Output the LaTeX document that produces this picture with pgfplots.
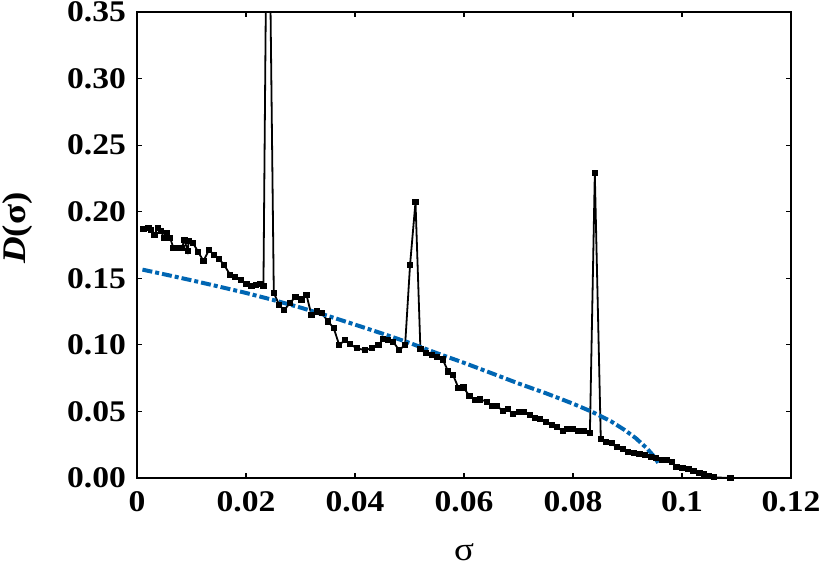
\documentclass[border=0pt]{standalone}
\usepackage{fontspec}
\setmainfont[FakeStretch=1.12]{Liberation Serif}
\usepackage{pgfplots}
\pgfplotsset{compat=1.18}
\definecolor{fitblue}{RGB}{0,102,179}

\begin{document}
\begin{tikzpicture}
\begin{axis}[
    scale only axis,
    width=327pt, height=233pt,
    xmin=0, xmax=0.12,
    ymin=0, ymax=0.35,
    xtick={0,0.02,0.04,0.06,0.08,0.1,0.12},
    ytick={0,0.05,0.1,0.15,0.2,0.25,0.3,0.35},
    tick align=inside,
    major tick length=2.5pt,
    tick style={black, line width=0.6pt},
    axis line style={line width=0.8pt},
    scaled ticks=false,
    xticklabel style={/pgf/number format/.cd, fixed, precision=2, assume math mode=true},
    yticklabel style={/pgf/number format/.cd, fixed, fixed zerofill, precision=2, assume math mode=true},
    ticklabel style={font=\fontsize{15}{17}\selectfont\bfseries},
    xticklabel shift=3pt,
    yticklabel shift=2pt,
    xlabel={σ},
    ylabel={\textbf{\textit{D}(σ)}},
    label style={font=\fontsize{16.5}{18}\selectfont},
    x label style={at={(axis description cs:0.5,-0.16)}, anchor=center},
    y label style={at={(axis description cs:-0.182,0.536)}, anchor=center, rotate=0},
]
\coordinate (ll) at (rel axis cs:0,0);
\coordinate (ur) at (rel axis cs:1,1);

% measured D(sigma)
\addplot[black, line width=0.9pt, mark=square*, mark size=1.1pt] coordinates {
(0.0012,0.187) (0.0021,0.188) (0.0026,0.186) (0.0032,0.1826) (0.0038,0.1876)
(0.0044,0.1856) (0.0050,0.180) (0.0055,0.1838) (0.0061,0.180) (0.0067,0.1726)
(0.0075,0.1726) (0.0082,0.1726) (0.0087,0.1788) (0.0093,0.1706) (0.0095,0.178)
(0.0103,0.1763) (0.0112,0.170) (0.0122,0.163) (0.0132,0.1713) (0.0142,0.1675)
(0.0151,0.1643) (0.0160,0.160) (0.0171,0.1525) (0.0180,0.151) (0.0191,0.1487)
(0.0201,0.146) (0.0210,0.1445) (0.0219,0.145) (0.0226,0.146) (0.0232,0.1442)
(0.0240,0.53) (0.0251,0.139) (0.0261,0.130) (0.0270,0.126) (0.0281,0.1317)
(0.0291,0.136) (0.0302,0.134) (0.0311,0.1375) (0.0320,0.1225) (0.0330,0.125)
(0.0339,0.1237) (0.0351,0.1175) (0.0361,0.1125) (0.0371,0.100) (0.0382,0.1037)
(0.0391,0.1007) (0.0403,0.0974) (0.0418,0.0961) (0.0431,0.0974) (0.0443,0.100)
(0.0452,0.1042) (0.0461,0.1037) (0.0470,0.1024) (0.0481,0.096) (0.0492,0.100)
(0.0501,0.160) (0.0511,0.2074) (0.0520,0.0967) (0.0530,0.0937) (0.0541,0.0924)
(0.0551,0.091) (0.0561,0.089) (0.0571,0.080) (0.0580,0.0774) (0.0590,0.0674)
(0.0599,0.068) (0.0610,0.0616) (0.0620,0.0586) (0.0630,0.059) (0.0642,0.0573)
(0.0651,0.0541) (0.0660,0.0541) (0.0671,0.0506) (0.0681,0.0516) (0.0690,0.0481)
(0.0701,0.0498) (0.0710,0.0498) (0.0721,0.0473) (0.0730,0.0448) (0.0739,0.0441)
(0.0750,0.0423) (0.0761,0.0398) (0.0770,0.0381) (0.0781,0.0355) (0.0789,0.0366)
(0.0799,0.0366) (0.0810,0.0355) (0.0820,0.0355) (0.0831,0.034) (0.0840,0.2288)
(0.0851,0.029) (0.0860,0.0273) (0.0871,0.026) (0.0880,0.023) (0.0891,0.0216)
(0.0901,0.0198) (0.0912,0.019) (0.0922,0.018) (0.0932,0.0173) (0.0943,0.016)
(0.0952,0.0148) (0.0963,0.0135) (0.0972,0.0135) (0.0981,0.0123) (0.0990,0.0085)
(0.1001,0.0073) (0.1012,0.0065) (0.1021,0.0055) (0.1032,0.004) (0.1040,0.003)
(0.1050,0.0015) (0.1059,0.0005) (0.1089,0.0)
};

% fitted curve
\addplot[fitblue, line width=2pt, dash pattern=on 5pt off 1.5pt on 2pt off 1.5pt] coordinates {
(0.001,0.1565) (0.005,0.153) (0.010,0.1485) (0.015,0.1438) (0.020,0.139)
(0.025,0.1337) (0.030,0.128) (0.035,0.1218) (0.040,0.1152) (0.045,0.1085)
(0.050,0.1015) (0.055,0.0938) (0.060,0.0865) (0.065,0.0788) (0.070,0.071)
(0.075,0.0637) (0.078,0.059) (0.080,0.0558) (0.0835,0.0497) (0.087,0.0425)
(0.0895,0.036) (0.0915,0.030) (0.0935,0.0225) (0.0948,0.0165) (0.0957,0.011)
};
\end{axis}
\pgfresetboundingbox
\path[use as bounding box] ([shift={(-68.5pt,-45pt)}]ll) rectangle ([shift={(15.5pt,6pt)}]ur);
\end{tikzpicture}
\end{document}
